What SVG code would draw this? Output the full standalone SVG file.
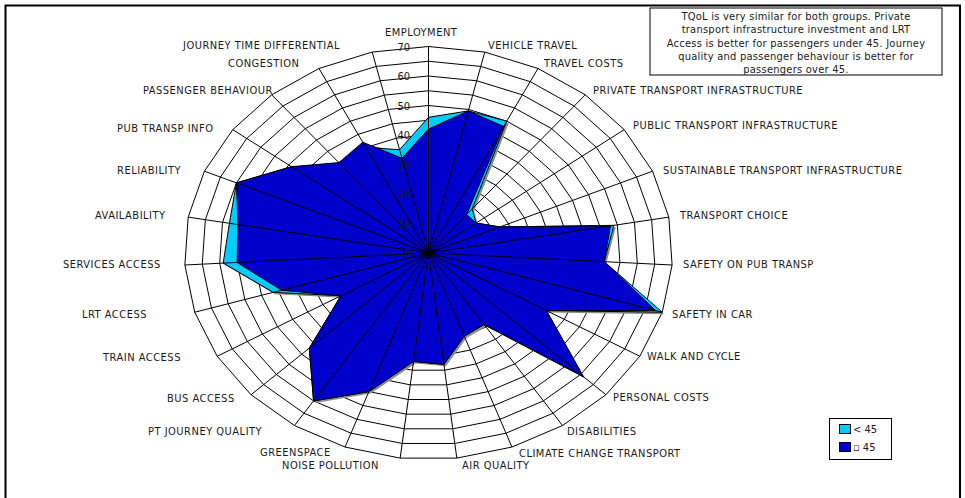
<svg xmlns="http://www.w3.org/2000/svg" xmlns:xlink="http://www.w3.org/1999/xlink" width="965" height="498" viewBox="0 0 965 498">
<style>
text{font-family:"DejaVu Sans Condensed","DejaVu Sans","Liberation Sans Narrow",sans-serif;font-size:11px;fill:#1a1a1a;font-stretch:condensed}
.g{fill:none;stroke:#000;stroke-width:1;vector-effect:non-scaling-stroke}
.sp{stroke:#000;stroke-width:1;vector-effect:non-scaling-stroke}
.c{fill:#00CCFF;stroke:#000;stroke-width:1;vector-effect:non-scaling-stroke;stroke-linejoin:round}
.d{fill:#0000CC;stroke:#000;stroke-width:1;vector-effect:non-scaling-stroke;stroke-linejoin:round}
.sh{fill:#8c8c8c;stroke:none}
.tk{text-anchor:end}
.lb{text-anchor:start;letter-spacing:0.5px}
.nt{text-anchor:middle;letter-spacing:0.25px}
</style>
<defs>
<polygon id="ring" class="g" points="0,-1 0.23061,-0.97304 0.44879,-0.89363 0.64279,-0.76604 0.80212,-0.59716 0.91822,-0.39608 0.98481,-0.17365 0.99831,0.05814 0.95799,0.28680 0.86603,0.5 0.72737,0.68624 0.54951,0.83549 0.34202,0.93969 0.11609,0.99324 -0.11609,0.99324 -0.34202,0.93969 -0.54951,0.83549 -0.72737,0.68624 -0.86603,0.5 -0.95799,0.28680 -0.99831,0.05814 -0.98481,-0.17365 -0.91822,-0.39608 -0.80212,-0.59716 -0.64279,-0.76604 -0.44879,-0.89363 -0.23061,-0.97304"/>
</defs>
<rect x="0" y="0" width="965" height="498" fill="#fff"/>
<rect id="frame" x="5.5" y="5.5" width="954.5" height="520" fill="none" stroke="#000" stroke-width="2"/>

<g id="grid" transform="translate(428.5,253) scale(3.486,2.95)">
<use xlink:href="#ring" transform="scale(5)"/>
<use xlink:href="#ring" transform="scale(10)"/>
<use xlink:href="#ring" transform="scale(15)"/>
<use xlink:href="#ring" transform="scale(20)"/>
<use xlink:href="#ring" transform="scale(25)"/>
<use xlink:href="#ring" transform="scale(30)"/>
<use xlink:href="#ring" transform="scale(35)"/>
<use xlink:href="#ring" transform="scale(40)"/>
<use xlink:href="#ring" transform="scale(45)"/>
<use xlink:href="#ring" transform="scale(50)"/>
<use xlink:href="#ring" transform="scale(55)"/>
<use xlink:href="#ring" transform="scale(60)"/>
<use xlink:href="#ring" transform="scale(65)"/>
<use xlink:href="#ring" transform="scale(70)"/>
</g>

<g id="shadows" transform="translate(430.5,255) scale(3.486,2.95)">
<polygon class="sh" points="0,-46 11.415,-48.165 22.44,-44.68 12.534,-14.938 13.636,-10.152 20.476,-8.833 53.18,-9.377 50.415,2.936 67.059,20.076 33.775,19.5 44.37,41.861 15.936,24.229 10.261,28.191 4.411,37.743 -4.295,36.75 -17.101,46.985 -32.971,50.129 -34.186,32.253 -25.115,14.5 -44.547,13.336 -58.9,3.43 -57.119,-10.072 -55.093,-23.765 -39.304,-29.261 -25.712,-30.642 -18.849,-37.532 -8.302,-35.029"/>
</g>

<g id="series-under45" transform="translate(428.5,253) scale(3.486,2.95)">
<polygon class="c" points="0,-46 11.415,-48.165 22.44,-44.68 12.534,-14.938 13.636,-10.152 20.476,-8.833 53.18,-9.377 50.415,2.936 67.059,20.076 33.775,19.5 44.37,41.861 15.936,24.229 10.261,28.191 4.411,37.743 -4.295,36.75 -17.101,46.985 -32.971,50.129 -34.186,32.253 -25.115,14.5 -44.547,13.336 -58.9,3.43 -57.119,-10.072 -55.093,-23.765 -39.304,-29.261 -24.426,-29.11 -17.952,-35.745 -8.302,-35.029"/>
</g>
<g id="series-over45" transform="translate(428.5,253) scale(3.486,2.95)">
<polygon class="d" points="0,-42 11.415,-48.165 21.542,-42.894 10.927,-13.023 13.636,-10.152 20.476,-8.833 52.195,-9.203 50.415,2.936 65.143,19.502 33.775,19.5 44.37,41.861 15.936,24.229 10.261,28.191 4.411,37.743 -4.295,36.75 -17.101,46.985 -32.971,50.129 -34.186,32.253 -25.115,14.5 -42.152,12.619 -54.907,3.198 -54.657,-9.638 -55.093,-23.765 -39.304,-29.261 -25.712,-30.642 -18.849,-37.532 -7.61,-32.11"/>
</g>

<g id="spokes" transform="translate(428.5,253) scale(3.486,2.95)">
<line class="sp" x1="0" y1="0" x2="0" y2="-70"/>
<line class="sp" x1="0" y1="0" x2="0" y2="-70" transform="rotate(13.3333)"/>
<line class="sp" x1="0" y1="0" x2="0" y2="-70" transform="rotate(26.6667)"/>
<line class="sp" x1="0" y1="0" x2="0" y2="-70" transform="rotate(40)"/>
<line class="sp" x1="0" y1="0" x2="0" y2="-70" transform="rotate(53.3333)"/>
<line class="sp" x1="0" y1="0" x2="0" y2="-70" transform="rotate(66.6667)"/>
<line class="sp" x1="0" y1="0" x2="0" y2="-70" transform="rotate(80)"/>
<line class="sp" x1="0" y1="0" x2="0" y2="-70" transform="rotate(93.3333)"/>
<line class="sp" x1="0" y1="0" x2="0" y2="-70" transform="rotate(106.6667)"/>
<line class="sp" x1="0" y1="0" x2="0" y2="-70" transform="rotate(120)"/>
<line class="sp" x1="0" y1="0" x2="0" y2="-70" transform="rotate(133.3333)"/>
<line class="sp" x1="0" y1="0" x2="0" y2="-70" transform="rotate(146.6667)"/>
<line class="sp" x1="0" y1="0" x2="0" y2="-70" transform="rotate(160)"/>
<line class="sp" x1="0" y1="0" x2="0" y2="-70" transform="rotate(173.3333)"/>
<line class="sp" x1="0" y1="0" x2="0" y2="-70" transform="rotate(186.6667)"/>
<line class="sp" x1="0" y1="0" x2="0" y2="-70" transform="rotate(200)"/>
<line class="sp" x1="0" y1="0" x2="0" y2="-70" transform="rotate(213.3333)"/>
<line class="sp" x1="0" y1="0" x2="0" y2="-70" transform="rotate(226.6667)"/>
<line class="sp" x1="0" y1="0" x2="0" y2="-70" transform="rotate(240)"/>
<line class="sp" x1="0" y1="0" x2="0" y2="-70" transform="rotate(253.3333)"/>
<line class="sp" x1="0" y1="0" x2="0" y2="-70" transform="rotate(266.6667)"/>
<line class="sp" x1="0" y1="0" x2="0" y2="-70" transform="rotate(280)"/>
<line class="sp" x1="0" y1="0" x2="0" y2="-70" transform="rotate(293.3333)"/>
<line class="sp" x1="0" y1="0" x2="0" y2="-70" transform="rotate(306.6667)"/>
<line class="sp" x1="0" y1="0" x2="0" y2="-70" transform="rotate(320)"/>
<line class="sp" x1="0" y1="0" x2="0" y2="-70" transform="rotate(333.3333)"/>
<line class="sp" x1="0" y1="0" x2="0" y2="-70" transform="rotate(346.6667)"/>
</g>

<g id="ticks">
<text class="tk" x="410" y="50.5">70</text>
<text class="tk" x="410" y="80">60</text>
<text class="tk" x="410" y="109.5">50</text>
<text class="tk" x="410" y="139">40</text>
<text class="tk" x="410" y="168.5">30</text>
<text class="tk" x="410" y="198">20</text>
<text class="tk" x="410" y="227.5">10</text>
<text class="tk" x="410" y="257">0</text>
</g>

<g id="labels">
<text class="lb" x="385" y="36">EMPLOYMENT</text>
<text class="lb" x="488" y="49">VEHICLE TRAVEL</text>
<text class="lb" x="544" y="67">TRAVEL COSTS</text>
<text class="lb" x="593" y="94">PRIVATE TRANSPORT INFRASTRUCTURE</text>
<text class="lb" x="633" y="129">PUBLIC TRANSPORT INFRASTRUCTURE</text>
<text class="lb" x="663" y="174">SUSTAINABLE TRANSPORT INFRASTRUCTURE</text>
<text class="lb" x="680" y="219">TRANSPORT CHOICE</text>
<text class="lb" x="683" y="268">SAFETY ON PUB TRANSP</text>
<text class="lb" x="672" y="318">SAFETY IN CAR</text>
<text class="lb" x="647" y="360">WALK AND CYCLE</text>
<text class="lb" x="613" y="401">PERSONAL COSTS</text>
<text class="lb" x="567" y="435">DISABILITIES</text>
<text class="lb" x="519" y="457">CLIMATE CHANGE TRANSPORT</text>
<text class="lb" x="462" y="468.5">AIR QUALITY</text>
<text class="lb" x="282" y="468.5">NOISE POLLUTION</text>
<text class="lb" x="260" y="456">GREENSPACE</text>
<text class="lb" x="148" y="435">PT JOURNEY QUALITY</text>
<text class="lb" x="167" y="402">BUS ACCESS</text>
<text class="lb" x="103" y="361">TRAIN ACCESS</text>
<text class="lb" x="82" y="318">LRT ACCESS</text>
<text class="lb" x="63" y="268">SERVICES ACCESS</text>
<text class="lb" x="95" y="219">AVAILABILITY</text>
<text class="lb" x="117" y="174">RELIABILITY</text>
<text class="lb" x="117" y="132">PUB TRANSP INFO</text>
<text class="lb" x="143" y="94">PASSENGER BEHAVIOUR</text>
<text class="lb" x="228" y="67">CONGESTION</text>
<text class="lb" x="183" y="49">JOURNEY TIME DIFFERENTIAL</text>
</g>

<g id="note">
<rect x="650" y="8" width="292" height="67" fill="#fff" stroke="#000" stroke-width="1"/>
<text class="nt" x="796" y="19.5">TQoL is very similar for both groups.  Private</text>
<text class="nt" x="796" y="33">transport infrastructure investment and LRT</text>
<text class="nt" x="796" y="46.5">Access is better for passengers under 45. Journey</text>
<text class="nt" x="796" y="60">quality and passenger behaviour is better for</text>
<text class="nt" x="796" y="73">passengers over 45.</text>
</g>

<g id="legend">
<rect x="829.5" y="418.5" width="62" height="41" fill="#fff" stroke="#000" stroke-width="1"/>
<rect x="839.5" y="424.5" width="11" height="9" fill="#00CCFF" stroke="#000" stroke-width="1"/>
<text x="853" y="433">&lt; 45</text>
<rect x="839.5" y="442.5" width="11" height="9" fill="#0000CC" stroke="#000" stroke-width="1"/>
<text x="853" y="451">▫ 45</text>
</g>
</svg>
